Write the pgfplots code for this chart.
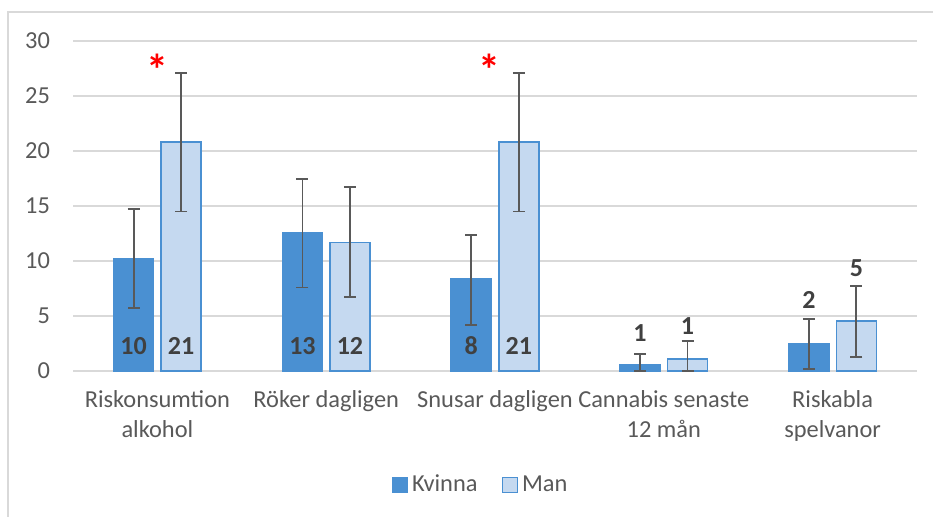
\documentclass[border=0pt]{standalone}
\usepackage{fontspec}
\setmainfont{Carlito}
\usepackage{pgfplots}
\usepackage{pgfplotstable}
\pgfplotsset{compat=1.18}

\definecolor{kvinna}{HTML}{4A90D2}
\definecolor{manfill}{HTML}{C5D9F0}
\definecolor{txt}{HTML}{595959}
\definecolor{lbl}{HTML}{404040}
\definecolor{errc}{HTML}{595959}
\definecolor{gridc}{HTML}{D9D9D9}

% y = andel, ep/em = felstaplar upp/ned
\pgfplotstableread{
x y ep em
0 10.25 4.45 4.50
1 12.60 4.85 5.00
2 8.40 4.00 4.20
3 0.55 1.00 0.55
4 2.45 2.25 2.25
}\tabK
\pgfplotstableread{
x y ep em
0 20.80 6.30 6.30
1 11.70 5.00 4.95
2 20.80 6.30 6.30
3 1.10 1.65 1.10
4 4.55 3.20 3.28
}\tabM

\begin{document}
\begin{tikzpicture}
\useasboundingbox (-36.5pt,-72.5pt) rectangle (430pt,185.5pt);
\draw[gridc, line width=0.75pt] (-32.5pt,-100pt) -- (-32.5pt,179.5pt) -- (460pt,179.5pt);
\begin{axis}[
  at={(0,0)}, anchor=south west, scale only axis,
  width=422pt, height=165pt,
  xmin=-0.5, xmax=4.5, ymin=0, ymax=30,
  ybar=3.75pt, bar width=20pt,
  axis line style={draw=none},
  major tick length=0pt,
  ytick={0,5,...,30},
  xtick={0,...,4},
  xticklabels={{Riskonsumtion\\alkohol},{Röker dagligen},{Snusar dagligen},{Cannabis senaste\\12 mån},{Riskabla\\spelvanor}},
  tick label style={font=\fontsize{12.2}{15}\selectfont, text=txt},
  x tick label style={align=center, yshift=-6pt},
  yticklabel style={xshift=-8pt},
  /pgf/number format/assume math mode=true,
  ymajorgrids, grid style={gridc, line width=0.75pt},
  clip=false,
  legend style={draw=none, at={(0.484,-0.345)}, anchor=center,
    font=\fontsize{12.2}{14}\selectfont, text=txt,
    /tikz/every even column/.append style={column sep=10pt}},
  legend columns=2,
  error bars/y dir=both, error bars/y explicit,
  error bars/error bar style={errc, line width=0.9pt},
  error bars/error mark options={errc, line width=0.9pt, mark size=3pt, rotate=90},
]
\addplot[fill=kvinna, draw=kvinna, line width=0.75pt,
  legend image code/.code={\draw[fill=kvinna, draw=kvinna] (0pt,-3.75pt) rectangle (7.5pt,3.75pt);}]
  table[x=x, y=y, y error plus=ep, y error minus=em] {\tabK};
\addplot[fill=manfill, draw=kvinna, line width=0.75pt,
  legend image code/.code={\draw[fill=manfill, draw=kvinna, line width=0.75pt] (0pt,-3.75pt) rectangle (7.5pt,3.75pt);}]
  table[x=x, y=y, y error plus=ep, y error minus=em] {\tabM};
\legend{Kvinna, Man}

\tikzset{lab/.style={font=\bfseries\fontsize{13}{15}\selectfont, text=lbl}}
\node[lab, xshift=-11.875pt, yshift=12.5pt] at (axis cs:0,0) {10};
\node[lab, xshift=11.875pt, yshift=12.5pt] at (axis cs:0,0) {21};
\node[lab, xshift=-11.875pt, yshift=12.5pt] at (axis cs:1,0) {13};
\node[lab, xshift=11.875pt, yshift=12.5pt] at (axis cs:1,0) {12};
\node[lab, xshift=-11.875pt, yshift=12.5pt] at (axis cs:2,0) {8};
\node[lab, xshift=11.875pt, yshift=12.5pt] at (axis cs:2,0) {21};
\node[lab, xshift=-11.875pt] at (axis cs:3,3.45) {1};
\node[lab, xshift=11.875pt] at (axis cs:3,4.09) {1};
\node[lab, xshift=-11.875pt] at (axis cs:4,6.45) {2};
\node[lab, xshift=11.875pt] at (axis cs:4,9.36) {5};

\node[font=\bfseries\fontsize{22}{22}\selectfont, text=red] at (axis cs:0,27.4) {*};
\node[font=\bfseries\fontsize{22}{22}\selectfont, text=red] at (axis cs:1.97,27.4) {*};
\end{axis}
\end{tikzpicture}
\end{document}
